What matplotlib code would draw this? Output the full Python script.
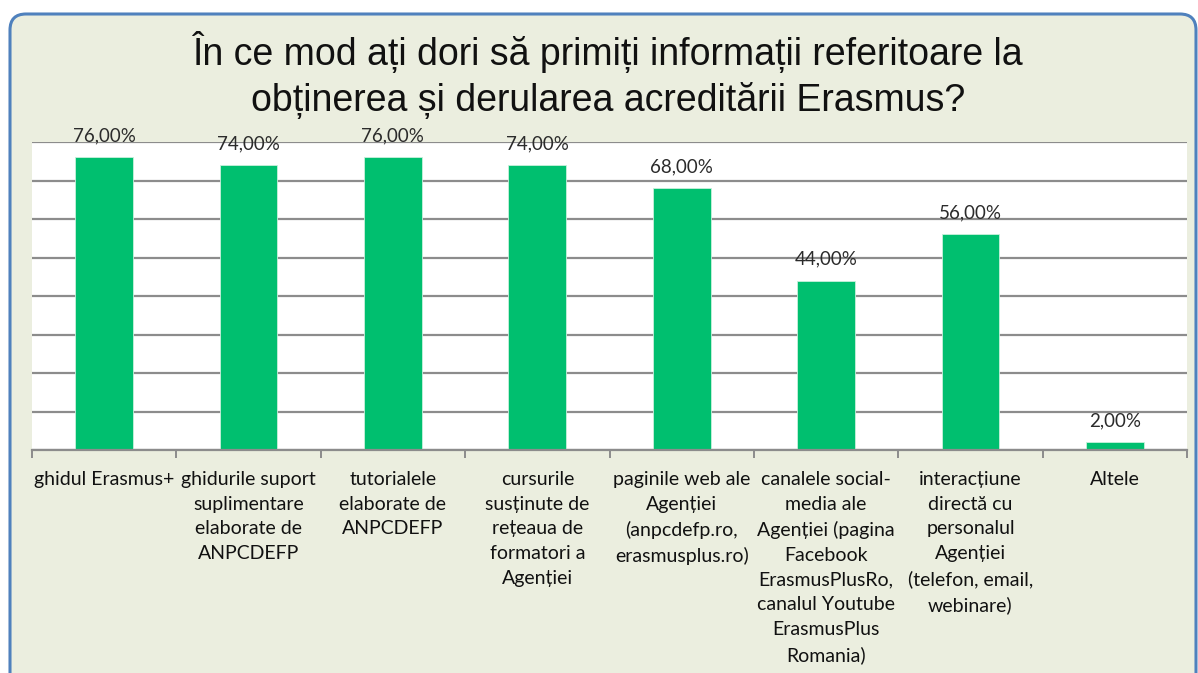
import matplotlib.pyplot as plt
import matplotlib.patches as mpatches
from matplotlib.transforms import IdentityTransform
import numpy as np

# Data
categories = [
    "ghidul Erasmus+",
    "ghidurile suport\nsuplimentare\nelaborate de\nANPCDEFP",
    "tutorialele\nelaborate de\nANPCDEFP",
    "cursurile\nsusținute de\nrețeaua de\nformatori a\nAgenției",
    "paginile web ale\nAgenției\n(anpcdefp.ro,\nerasmusplus.ro)",
    "canalele social-\nmedia ale\nAgenției (pagina\nFacebook\nErasmusPlusRo,\ncanalul Youtube\nErasmusPlus\nRomania)",
    "interacțiune\ndirectă cu\npersonalul\nAgenției\n(telefon, email,\nwebinare)",
    "Altele",
]
values = [76, 74, 76, 74, 68, 44, 56, 2]
title = "În ce mod ați dori să primiți informații referitoare la\nobținerea și derularea acreditării Erasmus?"

W, H = 1198, 673
fig = plt.figure(figsize=(W / 100, H / 100), dpi=100)
fig.patch.set_facecolor("white")

# rounded frame (pixel coordinates, origin bottom-left)
frame = mpatches.FancyBboxPatch(
    (10, -30), 1186, H - 13 + 30 - 1,
    boxstyle="round,pad=0,rounding_size=16",
    transform=IdentityTransform(), facecolor="#EBEEDF",
    edgecolor="#4F81BD", linewidth=2.2, zorder=-5)
fig.patches.append(frame)

ax = fig.add_axes([32 / W, 1 - 450 / H, (1187 - 32) / W, (450 - 142) / H])
ax.set_facecolor("white")

x = np.arange(len(values))
bars = ax.bar(x, values, width=0.40, color="#00BF6F", edgecolor="#C8F0DC",
              linewidth=0.6, zorder=3)

ax.set_ylim(0, 80)
ax.set_xlim(-0.5, len(values) - 0.5)
ax.set_yticks(np.arange(0, 81, 10))
ax.set_yticklabels([])
ax.tick_params(axis="y", length=0)
ax.yaxis.grid(True, color="#8C8C8C", linewidth=1.6, zorder=1)
ax.set_axisbelow(True)

for s in ["top", "left", "right"]:
    ax.spines[s].set_visible(False)
ax.spines["bottom"].set_color("#8C8C8C")
ax.spines["bottom"].set_linewidth(1.6)
ax.spines["bottom"].set_zorder(4)

# ticks between categories
ax.set_xticks(np.arange(-0.5, len(values), 1.0))
ax.set_xticklabels([])
ax.tick_params(axis="x", length=6, width=1.4, color="#8C8C8C", direction="out")

for xi, lab in zip(x, categories):
    ax.annotate(lab, xy=(xi, 0), xytext=(0, -15), textcoords="offset points",
                ha="center", va="top", fontsize=14, family="Lato",
                color="#111111", linespacing=1.55, annotation_clip=False)

for b, v in zip(bars, values):
    ax.annotate(f"{v:.2f}%".replace(".", ","), xy=(b.get_x() + b.get_width() / 2, v),
                xytext=(0, 9.5), textcoords="offset points", ha="center", va="bottom",
                fontsize=13.5, family="Lato", color="#2B2B2B", annotation_clip=False)

fig.text(0.508, 1 - 75 / H, title, ha="center", va="center", fontsize=27,
         family="Liberation Sans", color="#111111", linespacing=1.32)

fig.savefig("out.png", dpi=100)
